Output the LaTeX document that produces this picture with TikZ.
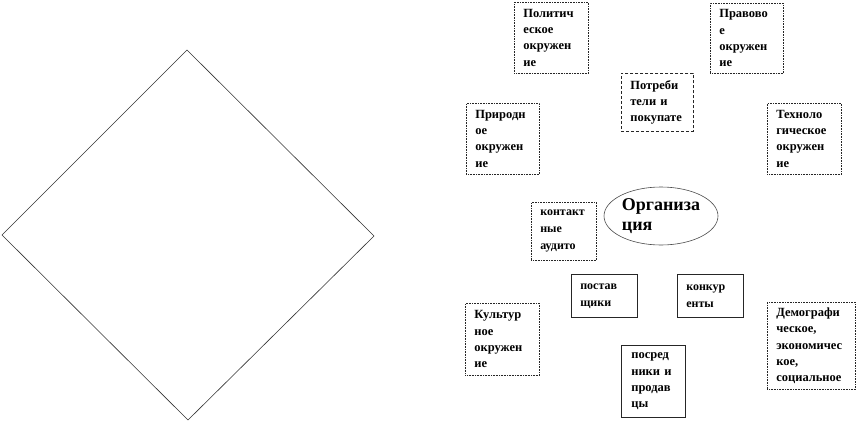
\documentclass[tikz,border=0pt]{standalone}
\usepackage{fontspec}
\setmainfont{Liberation Serif}
\usetikzlibrary{shapes.geometric}
\begin{document}
\begin{tikzpicture}[x=1pt,y=-1pt,
  box/.style={draw=black!85, line width=0.6pt, rectangle, anchor=north west,
    inner xsep=9pt, inner ysep=0pt, align=left,
    font=\bfseries\fontsize{12.5}{16.3}\selectfont},
  smallbox/.style={box, font=\bfseries\fontsize{12}{17}\selectfont},
  dotbox/.style={densely dotted},
  dashbox/.style={densely dashed},
  orgstyle/.style={draw=black!70, line width=0.6pt, ellipse, inner sep=0pt,
    align=left, font=\bfseries\fontsize{18}{20}\selectfont},
  diam/.style={draw=black!80, line width=0.6pt}]
\useasboundingbox (0,0) rectangle (859,423);
% diamond
\coordinate (dt) at (187,50);
\coordinate (dl) at (2,235);
\coordinate (db) at (188,420);
\coordinate (dr) at (374,236);
\draw[diam] (dt) -- (dr) -- (db) -- (dl) -- cycle;
% boxes
\node[box, dotbox, minimum width=74, minimum height=71, text width=56] (pol) at (514,2)
  {Политич\\еское\\окружен\\ие};
\node[box, dotbox, minimum width=73, minimum height=70, text width=55] (prav) at (710,3)
  {Правово\\е\\окружен\\ие};
\node[box, dashbox, minimum width=72, minimum height=58, text width=54] (potr) at (621,73)
  {Потреби\\тели и\\покупате};
\node[box, dotbox, minimum width=73, minimum height=71, text width=55] (prir) at (466,103)
  {Природн\\ое\\окружен\\ие};
\node[box, dotbox, minimum width=74, minimum height=71, text width=56] (tech) at (767,103)
  {Техноло\\гическое\\окружен\\ие};
\node[smallbox, dotbox, minimum width=65, minimum height=58, text width=47] (kont) at (531,202)
  {контакт\\ные\\аудито};
\node[orgstyle, minimum width=114, minimum height=58] (org) at (661,216)
  {Организа\\ция};
\node[smallbox, minimum width=66, minimum height=43, text width=48] (post) at (571,274)
  {постав\\щики};
\node[smallbox, minimum width=66, minimum height=43, text width=48] (konk) at (677,274)
  {конкур\\енты};
\node[box, dotbox, minimum width=74, minimum height=72, text width=56] (kult) at (465,303)
  {Культур\\ное\\окружен\\ие};
\node[box, minimum width=64, minimum height=72, text width=44, inner xsep=10pt] (posr) at (621,345)
  {посред\\ники и\\продав\\цы};
\node[box, dotbox, minimum width=88, minimum height=87, text width=70, inner xsep=9pt] (dem) at (767,302)
  {Демографи\\ческое,\\экономичес\\кое,\\социальное};
\end{tikzpicture}
\end{document}
